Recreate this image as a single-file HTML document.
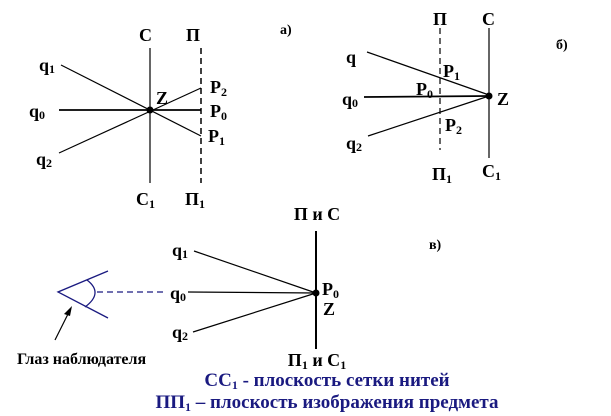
<!DOCTYPE html>
<html><head><meta charset="utf-8"><style>
html,body{margin:0;padding:0;background:#fff;}
svg{display:block;}
text{font-family:"Liberation Serif","DejaVu Serif",serif;font-weight:bold;fill:#000;}
.s{font-size:18px;}
.sub{font-size:12px;}
</style></head><body>
<svg width="611" height="416" viewBox="0 0 611 416" xmlns="http://www.w3.org/2000/svg">
<!-- a) -->
<g stroke="#000" stroke-width="1.2" fill="none">
<line x1="150" y1="48" x2="150" y2="183"/>
<line x1="201" y1="48" x2="201" y2="183" stroke-dasharray="6,4" stroke-width="1.5"/>
<line x1="61" y1="65" x2="201" y2="136"/>
<line x1="59" y1="110" x2="201" y2="110" stroke-width="1.8"/>
<line x1="59" y1="153" x2="201" y2="88"/>
</g>
<circle cx="150" cy="110" r="3.5" fill="#000"/>
<text class="s" x="139" y="41">C</text>
<text class="s" x="186" y="41">П</text>
<text class="s" x="136" y="205">C<tspan class="sub" dy="3">1</tspan></text>
<text class="s" x="185" y="205">П<tspan class="sub" dy="3">1</tspan></text>
<text class="s" x="39" y="71">q<tspan class="sub" dy="2">1</tspan></text>
<text class="s" x="29" y="117">q<tspan class="sub" dy="2">0</tspan></text>
<text class="s" x="36" y="165">q<tspan class="sub" dy="2">2</tspan></text>
<text class="s" x="210" y="93">P<tspan class="sub" dy="3">2</tspan></text>
<text class="s" x="210" y="117">P<tspan class="sub" dy="3">0</tspan></text>
<text class="s" x="208" y="142">P<tspan class="sub" dy="3">1</tspan></text>
<text class="s" x="156" y="104">Z</text>
<text x="280" y="34" style="font-size:14px">а)</text>
<!-- б) -->
<g stroke="#000" stroke-width="1.2" fill="none">
<line x1="489" y1="28" x2="489" y2="158"/>
<line x1="440" y1="28" x2="440" y2="150" stroke-dasharray="6,4"/>
<line x1="367" y1="52" x2="489" y2="95"/>
<line x1="364" y1="97" x2="489" y2="96" stroke-width="1.8"/>
<line x1="368" y1="136" x2="489" y2="96"/>
</g>
<circle cx="489" cy="96" r="3.5" fill="#000"/>
<text class="s" x="433" y="25">П</text>
<text class="s" x="482" y="25">C</text>
<text class="s" x="346" y="63">q</text>
<text class="s" x="342" y="105">q<tspan class="sub" dy="2">0</tspan></text>
<text class="s" x="346" y="149">q<tspan class="sub" dy="2">2</tspan></text>
<text class="s" x="443" y="77">P<tspan class="sub" dy="3">1</tspan></text>
<text class="s" x="416" y="95">P<tspan class="sub" dy="3">0</tspan></text>
<text class="s" x="445" y="131">P<tspan class="sub" dy="3">2</tspan></text>
<text class="s" x="497" y="105">Z</text>
<text class="s" x="432" y="180">П<tspan class="sub" dy="3">1</tspan></text>
<text class="s" x="482" y="177">C<tspan class="sub" dy="3">1</tspan></text>
<text x="556" y="49" style="font-size:14px">б)</text>
<!-- в) -->
<g stroke="#000" stroke-width="1.2" fill="none">
<line x1="316" y1="231" x2="316" y2="349" stroke-width="2"/>
<line x1="194" y1="251" x2="316" y2="293"/>
<line x1="188" y1="292" x2="316" y2="293"/>
<line x1="193" y1="332" x2="316" y2="293"/>
<line x1="55" y1="340" x2="69" y2="312"/>
</g>
<polygon points="72,306 64,314 70,316" fill="#000"/>
<circle cx="316" cy="293" r="3.5" fill="#000"/>
<g stroke="#1a1a80" stroke-width="1.3" fill="none">
<polyline points="108,271 58,292 108,318"/>
<path d="M87,280 Q104,293 85,307"/>
<line x1="97" y1="292" x2="165" y2="292" stroke-dasharray="6,4"/>
</g>
<text class="s" x="317" y="220" text-anchor="middle">П и С</text>
<text class="s" x="317" y="366" text-anchor="middle">П<tspan class="sub" dy="3">1</tspan><tspan dy="-3"> и С</tspan><tspan class="sub" dy="3">1</tspan></text>
<text class="s" x="172" y="256">q<tspan class="sub" dy="2">1</tspan></text>
<text class="s" x="170" y="299">q<tspan class="sub" dy="2">0</tspan></text>
<text class="s" x="172" y="338">q<tspan class="sub" dy="2">2</tspan></text>
<text class="s" x="322" y="295">P<tspan class="sub" dy="3">0</tspan></text>
<text class="s" x="323" y="315">Z</text>
<text x="429" y="249" style="font-size:14px">в)</text>
<text x="17" y="364" style="font-size:16px">Глаз наблюдателя</text>
<text x="327" y="386" text-anchor="middle" style="fill:#1a1a80;font-size:19px">СС<tspan class="sub" dy="3">1</tspan><tspan dy="-3"> - плоскость сетки нитей</tspan></text>
<text x="327" y="408" text-anchor="middle" style="fill:#1a1a80;font-size:19px">ПП<tspan class="sub" dy="3">1</tspan><tspan dy="-3"> – плоскость изображения предмета</tspan></text>
</svg>
</body></html>
